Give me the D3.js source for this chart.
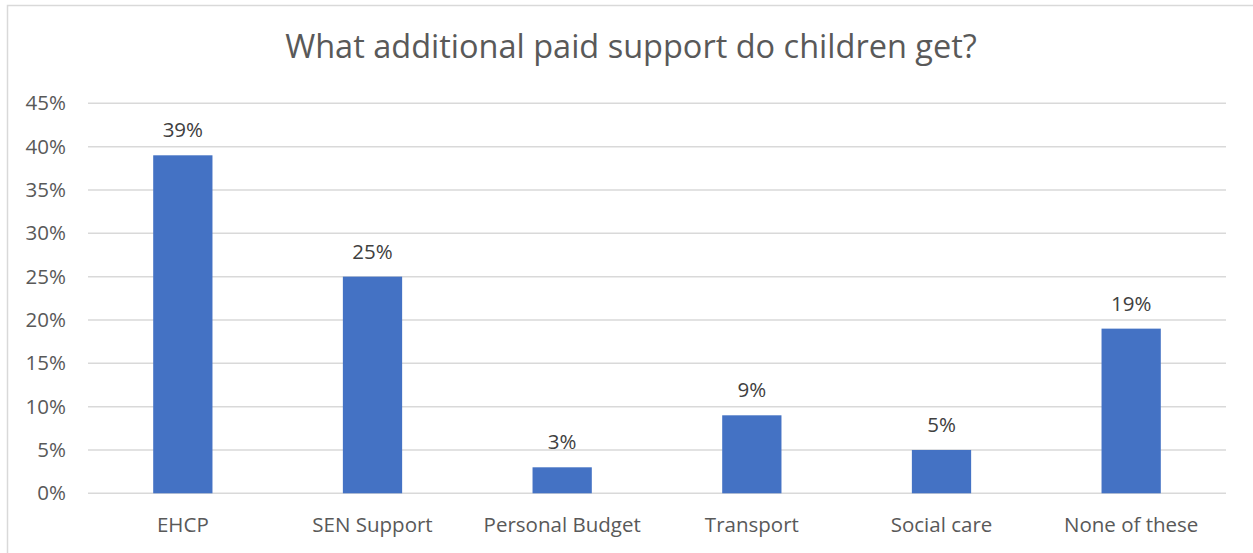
<!DOCTYPE html>
<html>
<head>
<meta charset="utf-8">
<script src="https://cdn.jsdelivr.net/npm/d3@7"></script>
<style>
  html, body { margin: 0; padding: 0; background: #fff; }
  svg { display: block; }
  text { font-family: "Open Sans", Lato, sans-serif; }
</style>
</head>
<body>
<svg id="chart" width="1253" height="553"></svg>
<script>
// Survey responses: share of children receiving each kind of paid support
const categories = ["EHCP", "SEN Support", "Personal Budget", "Transport", "Social care", "None of these"];
const shares = [0.39, 0.25, 0.03, 0.09, 0.05, 0.19];
const yTicks = [0, 0.05, 0.10, 0.15, 0.20, 0.25, 0.30, 0.35, 0.40, 0.45];
const title = "What additional paid support do children get?";

const W = 1253, H = 553;
const plot = { left: 88, right: 1226, top: 103.3, bottom: 493.3 };
const FONT = "'Open Sans', Lato, sans-serif";

const svg = d3.select("#chart");

// chart frame (right and bottom edges fall outside the view)
svg.append("path")
  .attr("d", `M7.5,${H} V5.5 H${W}`)
  .attr("fill", "none")
  .attr("stroke", "#d9d9d9")
  .attr("stroke-width", 1.5);

const x = d3.scaleBand()
  .domain(categories)
  .range([plot.left, plot.right])
  .paddingInner(0.6875)
  .paddingOuter(0.34375);

const y = d3.scaleLinear()
  .domain([0, 0.45])
  .range([plot.bottom, plot.top]);

// horizontal gridlines
svg.append("g")
  .selectAll("line")
  .data(yTicks)
  .join("line")
  .attr("x1", plot.left)
  .attr("x2", plot.right)
  .attr("y1", d => y(d))
  .attr("y2", d => y(d))
  .attr("stroke", "#d9d9d9")
  .attr("stroke-width", 1.5);

// y axis labels
const yAxis = d3.axisLeft(y)
  .tickValues(yTicks)
  .tickFormat(d3.format(".0%"))
  .tickSize(0)
  .tickPadding(0);
const gy = svg.append("g")
  .attr("transform", `translate(66,0)`)
  .call(yAxis);
gy.select(".domain").remove();
gy.selectAll("text")
  .attr("fill", "#595959")
  .style("font-size", "20.5px")
  .style("font-family", FONT);

// bars
svg.append("g")
  .selectAll("rect")
  .data(categories)
  .join("rect")
  .attr("x", d => x(d))
  .attr("width", x.bandwidth())
  .attr("y", (d, i) => y(shares[i]))
  .attr("height", (d, i) => y(0) - y(shares[i]))
  .attr("fill", "#4472c4");

// value labels above bars
svg.append("g")
  .selectAll("text")
  .data(categories)
  .join("text")
  .attr("x", d => x(d) + x.bandwidth() / 2)
  .attr("y", (d, i) => y(shares[i]) - 18)
  .attr("text-anchor", "middle")
  .attr("fill", "#404040")
  .style("font-size", "20.5px")
  .text((d, i) => d3.format(".0%")(shares[i]));

// category axis labels
const xAxis = d3.axisBottom(x).tickSize(0).tickPadding(0);
const gx = svg.append("g")
  .attr("transform", `translate(0,${plot.bottom})`)
  .call(xAxis);
gx.select(".domain").remove();
gx.selectAll("text")
  .attr("dy", null)
  .attr("y", 38.5)
  .attr("fill", "#595959")
  .style("font-size", "20.5px")
  .style("font-family", FONT);

// chart title
svg.append("text")
  .attr("x", 631)
  .attr("y", 57.7)
  .attr("text-anchor", "middle")
  .attr("fill", "#595959")
  .style("font-size", "32.5px")
  .text(title);
</script>
</body>
</html>
